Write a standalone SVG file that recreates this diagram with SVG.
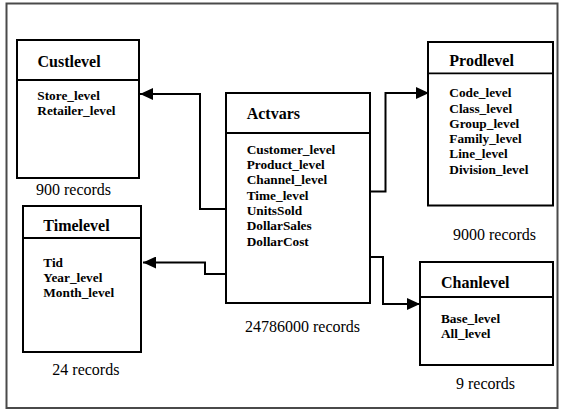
<svg xmlns="http://www.w3.org/2000/svg" width="563" height="414" viewBox="0 0 563 414">
<style>
.box{fill:#fff;stroke:#000;stroke-width:2}
.div{stroke:#000;stroke-width:1.8}
text{font-family:'Liberation Serif','Times New Roman',Tinos,'DejaVu Serif',serif;fill:#000}
.title{font-weight:bold;font-size:16px}
.item{font-weight:bold;font-size:13.3px}
.rec{font-size:16px}
.conn{fill:none;stroke:#000;stroke-width:2}
</style>
<defs>
<marker id="ah" markerWidth="13" markerHeight="12" refX="13" refY="6" orient="auto" markerUnits="userSpaceOnUse">
<path d="M0,0 L13,6 L0,12 Z" fill="#000"/>
</marker>
</defs>
<rect x="6.5" y="3.5" width="551" height="404.5" fill="#fff" stroke="#4a4a4a" stroke-width="2"/>
<g id="connectors">
<polyline class="conn" points="226,209 200,209 200,94 140,94" marker-end="url(#ah)"/>
<polyline class="conn" points="226,274 205,274 205,262.5 143,262.5" marker-end="url(#ah)"/>
<polyline class="conn" points="370,191.5 385.5,191.5 385.5,93 429,93" marker-end="url(#ah)"/>
<polyline class="conn" points="370,257 383,257 383,304 420,304" marker-end="url(#ah)"/>
</g>
<g id="custlevel">
<rect class="box" x="17" y="40" width="122" height="138"/>
<line class="div" x1="17" y1="80" x2="139" y2="80"/>
<text class="title" x="37.5" y="66.5">Custlevel</text>
<text class="item" x="37.3" y="99.5">Store_level</text>
<text class="item" x="37.3" y="114.8">Retailer_level</text>
<text class="rec" x="36" y="195">900 records</text>
</g>
<g id="timelevel">
<rect class="box" x="23" y="206" width="118" height="146"/>
<line class="div" x1="23" y1="238" x2="141" y2="238"/>
<text class="title" x="43.3" y="230.7">Timelevel</text>
<text class="item" x="43.3" y="266.5">Tid</text>
<text class="item" x="43.3" y="281.8">Year_level</text>
<text class="item" x="43.3" y="297.1">Month_level</text>
<text class="rec" x="52.3" y="375">24 records</text>
</g>
<g id="actvars">
<rect class="box" x="226" y="93" width="144" height="210"/>
<line class="div" x1="226" y1="133" x2="370" y2="133"/>
<text class="title" x="246.7" y="118.5">Actvars</text>
<text class="item" x="246.7" y="153.8">Customer_level</text>
<text class="item" x="246.7" y="169.1">Product_level</text>
<text class="item" x="246.7" y="184.4">Channel_level</text>
<text class="item" x="246.7" y="199.7">Time_level</text>
<text class="item" x="246.7" y="215">UnitsSold</text>
<text class="item" x="246.7" y="230.3">DollarSales</text>
<text class="item" x="246.7" y="245.6">DollarCost</text>
<text class="rec" x="245" y="332">24786000 records</text>
</g>
<g id="prodlevel">
<rect class="box" x="428" y="42" width="125" height="163.5"/>
<line class="div" x1="428" y1="73.3" x2="553" y2="73.3"/>
<text class="title" x="449.3" y="66">Prodlevel</text>
<text class="item" x="449.3" y="97.2">Code_level</text>
<text class="item" x="449.3" y="112.5">Class_level</text>
<text class="item" x="449.3" y="127.8">Group_level</text>
<text class="item" x="449.3" y="143.1">Family_level</text>
<text class="item" x="449.3" y="158.4">Line_level</text>
<text class="item" x="449.3" y="173.7">Division_level</text>
<text class="rec" x="453" y="240">9000 records</text>
</g>
<g id="chanlevel">
<rect class="box" x="420" y="262" width="133" height="103"/>
<line class="div" x1="420" y1="297" x2="553" y2="297"/>
<text class="title" x="441" y="288">Chanlevel</text>
<text class="item" x="441" y="322.8">Base_level</text>
<text class="item" x="441" y="338.1">All_level</text>
<text class="rec" x="456" y="389">9 records</text>
</g>
</svg>
